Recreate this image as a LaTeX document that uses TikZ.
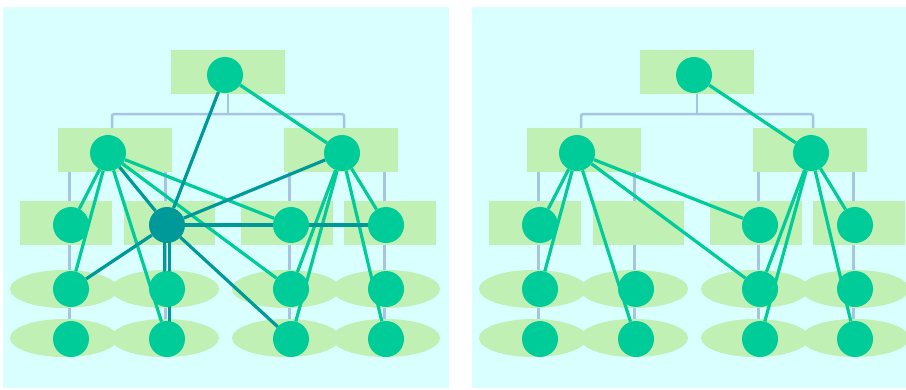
\documentclass[tikz,border=0pt]{standalone}
\usepackage{tikz}
\usetikzlibrary{shapes.geometric}

\definecolor{panelbg}{HTML}{D9FFFF}
\definecolor{boxgreen}{HTML}{C0F0B4}
\definecolor{mint}{HTML}{00CC99}
\definecolor{darkteal}{HTML}{009999}
\definecolor{treeblue}{HTML}{A8C4E4}

\pgfdeclarelayer{back}
\pgfdeclarelayer{mid}
\pgfdeclarelayer{links}
\pgfsetlayers{back,mid,links,main}

\begin{document}
\begin{tikzpicture}[x=1pt, y=-1pt,
    dot/.style={circle, fill=mint, minimum size=36pt, inner sep=0pt},
    hub/.style={dot, fill=darkteal},
    box/.style={rectangle, fill=boxgreen, minimum width=#1, minimum height=44pt, inner sep=0pt},
    box/.default=114pt,
    blob/.style={ellipse, fill=boxgreen, minimum width=108pt, minimum height=38pt, inner sep=0pt},
    tree/.style={draw=treeblue, line width=2.5pt, rounded corners=2pt},
    link/.style={draw=mint, line width=3.2pt},
    hublink/.style={draw=darkteal, line width=3.2pt}]
                \useasboundingbox (0,0) rectangle (906,389);
                \clip (0,0) rectangle (906,389);
                % two panels, same layout
                \foreach \p/\dx in {a/0, b/469} {
                  \begin{scope}[xshift=\dx]
                    \begin{pgfonlayer}{back}
                      \fill[panelbg] (3,7) rectangle (449,388);
                    \end{pgfonlayer}
                    \begin{pgfonlayer}{mid}
                      \node[box] (\p-r0) at (228,72) {};
                      \node[box] (\p-r1) at (115,150) {};
                      \node[box] (\p-r2) at (341,150) {};
                      \foreach \i/\x/\w in {1/66/92pt, 2/169.5/91pt, 3/287/92pt, 4/390/92pt}
                        \node[box=\w] (\p-s\i) at (\x,223) {};
                      \foreach \i/\x in {1/64, 2/165, 3/286, 4/386} {
                        \node[blob] (\p-e\i) at (\x,289) {};
                        \node[blob] (\p-f\i) at (\x,338) {};
                      }
                    \end{pgfonlayer}
                    \node[dot] (\p-t) at (225,75) {};
                    \node[dot] (\p-u1) at (108,153) {};
                    \node[dot] (\p-u2) at (342,153) {};
                    \foreach \i/\x in {1/71, 3/291, 4/386}
                      \node[dot] (\p-v\i) at (\x,225) {};
                    \foreach \i/\x in {1/71, 2/167, 3/291, 4/386} {
                      \node[dot] (\p-w\i) at (\x,289) {};
                      \node[dot] (\p-z\i) at (\x,339) {};
                    }
                    \begin{pgfonlayer}{back}
                      \draw[tree] (\p-r0.south) -- ++(0,20) coordinate (\p-j);
                      \draw[tree] ([xshift=-3pt]\p-r1.north) |- (\p-j) -| ([xshift=3pt]\p-r2.north);
                      \foreach \i/\k in {1/1, 2/1, 3/2, 4/2}
                        \draw[tree] ([xshift=-1.5pt]\p-w\i |- \p-r\k.south) -- ([xshift=-1.5pt]\p-w\i |- \p-f\i);
                    \end{pgfonlayer}
                  \end{scope}
                }
                \node[hub] (a-v2) at (167,225) {};
                \begin{pgfonlayer}{links}
                  \foreach \p in {a, b} {
                    \draw[link] (\p-t) -- (\p-u2);
                    \foreach \n in {v1, w1, z2, v3, w3}
                      \draw[link] (\p-u1) -- (\p-\n);
                    \foreach \n in {v4, w3, z3, z4}
                      \draw[link] (\p-u2) -- (\p-\n);
                  }
                  % the dark hub, left panel only
                  \foreach \n in {t, u1, u2, v4, w1, z3}
                    \draw[hublink] (a-v2) -- (a-\n);
                  \draw[hublink] ([xshift=-2.5pt]a-v2.center) -- ([xshift=-2.5pt]a-w2.center);
                  \draw[hublink] ([xshift=2.5pt]a-v2.center) -- ([xshift=2.5pt]a-z2.center);
                \end{pgfonlayer}
              \end{tikzpicture}
\end{document}
